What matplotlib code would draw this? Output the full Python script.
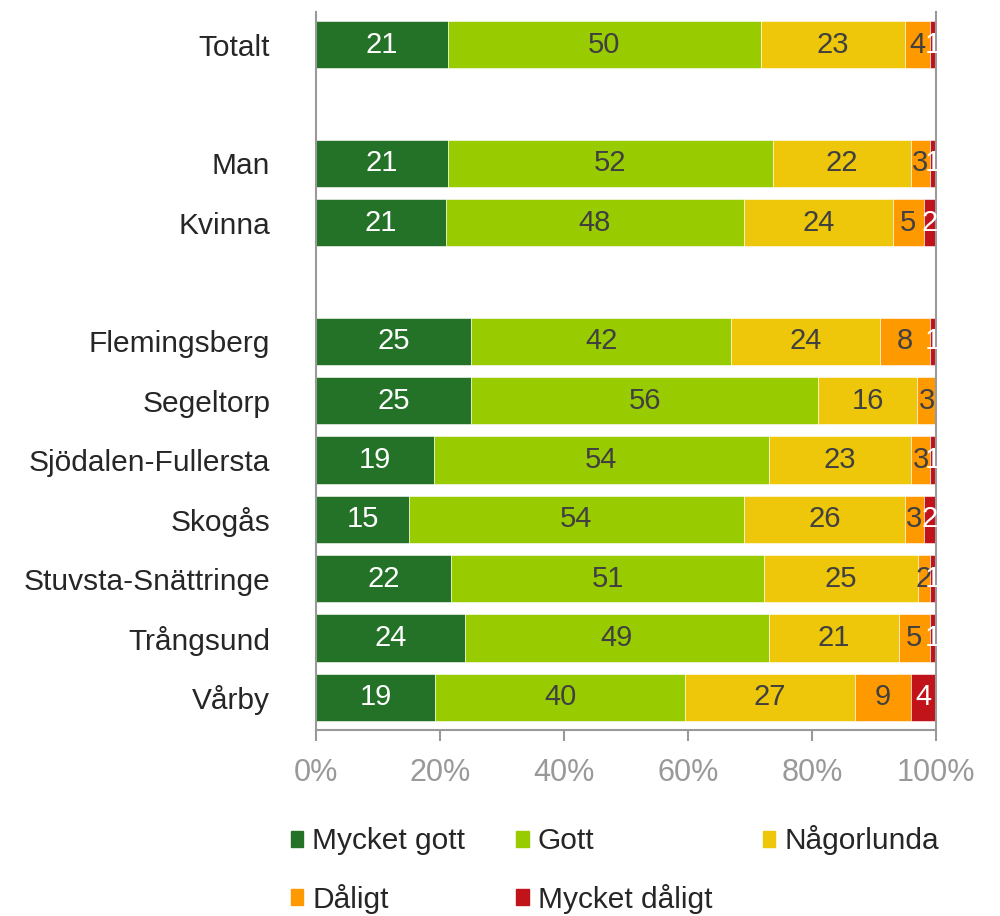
import matplotlib
matplotlib.use("Agg")
import matplotlib.pyplot as plt
import numpy as np
from matplotlib.patches import Patch

plt.rcParams['font.family'] = ['Liberation Sans', 'DejaVu Sans']

# data (percent per answer category)
groups = ['Totalt', '', 'Man', 'Kvinna', '', 'Flemingsberg', 'Segeltorp',
          'Sjödalen-Fullersta', 'Skogås', 'Stuvsta-Snättringe', 'Trångsund', 'Vårby']
categories = ['Mycket gott', 'Gott', 'Någorlunda', 'Dåligt', 'Mycket dåligt']
mycket_gott = [21, 0, 21, 21, 0, 25, 25, 19, 15, 22, 24, 19]
gott = [50, 0, 52, 48, 0, 42, 56, 54, 54, 51, 49, 40]
nagorlunda = [23, 0, 22, 24, 0, 24, 16, 23, 26, 25, 21, 27]
daligt = [4, 0, 3, 5, 0, 8, 3, 3, 3, 2, 5, 9]
mycket_daligt = [1, 0, 1, 2, 0, 1, 0, 1, 2, 1, 1, 4]

colors = ['#247128', '#99CC00', '#EEC60A', '#FF9900', '#C0141A']
text_colors = ['white', '#404040', '#404040', '#404040', 'white']

series = [mycket_gott, gott, nagorlunda, daligt, mycket_daligt]
vals = np.array(series, dtype=float)
tot = vals.sum(axis=0)
tot[tot == 0] = 1
shares = vals / tot * 100

fig = plt.figure(figsize=(10, 9.16), dpi=100)
ax = fig.add_axes([0.316, 0.203, 0.62, 0.784])

y = np.arange(len(groups))
left = np.zeros(len(groups))
for i, cat in enumerate(categories):
    ax.barh(y, shares[i], left=left, height=0.8, color=colors[i], label=cat,
            edgecolor='white', linewidth=0.4)
    for j in range(len(groups)):
        if vals[i, j] > 0:
            ax.text(left[j] + shares[i, j] / 2, y[j], '%d' % vals[i, j],
                    ha='center', va='center', fontsize=21, color=text_colors[i])
    left += shares[i]

ax.set_ylim(len(groups) - 0.45, -0.55)
ax.set_xlim(0, 100)
ax.set_yticks(y)
ax.set_yticklabels(groups, fontsize=21.5, color='#262626')
ax.tick_params(axis='y', length=0, pad=33)
ax.set_xticks([0, 20, 40, 60, 80, 100])
ax.set_xticklabels(['0%', '20%', '40%', '60%', '80%', '100%'])
ax.tick_params(axis='x', length=8, width=1.5, color='#999999', labelcolor='#999999',
               labelsize=22, pad=12)

for s in ['left', 'bottom', 'right']:
    ax.spines[s].set_color('#999999')
    ax.spines[s].set_linewidth(1.5)
ax.spines['top'].set_visible(False)

handles = [Patch(color=c) for c in colors]
order = [0, 3, 1, 4, 2]
fig.legend([handles[k] for k in order], [categories[k] for k in order],
           loc='lower left', bbox_to_anchor=(0.264, -0.027), ncol=3, frameon=False,
           fontsize=21.5, handlelength=0.42, handleheight=0.42, handletextpad=0.3,
           columnspacing=1.7, labelspacing=0.95, labelcolor='#262626')

fig.savefig('out.png', dpi=100)
